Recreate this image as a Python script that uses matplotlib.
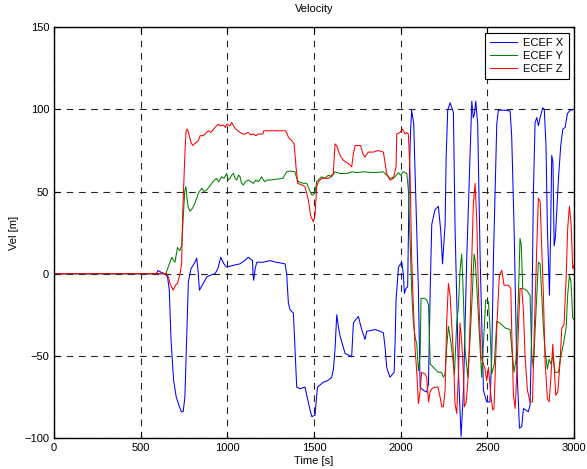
import matplotlib
matplotlib.use("Agg")
import matplotlib.pyplot as plt

# ECEF X velocity (time [s], value)
x_t = [0, 590, 600, 615, 640, 655, 665, 675, 690, 705, 720, 735, 745, 755, 765, 775, 790, 813, 823, 830,
       839, 860, 881, 900, 929, 945, 962, 980, 996, 1030, 1073, 1100, 1121, 1145, 1148, 1152, 1160, 1170,
       1208, 1246, 1280, 1304, 1333, 1342, 1352, 1362, 1381, 1390, 1400, 1419, 1448, 1460, 1475, 1487,
       1506, 1512, 1520, 1554, 1580, 1602, 1612, 1621, 1631, 1640, 1650, 1679, 1717, 1722, 1727, 1740,
       1756, 1765, 1775, 1794, 1804, 1852, 1880, 1900, 1910, 1919, 1938, 1962, 1968, 1973, 1987, 2006,
       2015, 2021, 2030, 2040, 2048, 2056, 2063, 2075, 2087, 2102, 2112, 2131, 2150, 2160, 2165, 2170,
       2179, 2198, 2217, 2231, 2241, 2256, 2262, 2271, 2285, 2304, 2313, 2333, 2348, 2362, 2381, 2400,
       2410, 2418, 2425, 2433, 2444, 2458, 2477, 2496, 2515, 2525, 2535, 2554, 2563, 2600, 2631, 2640,
       2654, 2669, 2685, 2698, 2708, 2736, 2746, 2756, 2765, 2775, 2785, 2794, 2804, 2819, 2828, 2838,
       2846, 2858, 2865, 2871, 2878, 2885, 2892, 2900, 2910, 2923, 2935, 2948, 2962, 2977, 3000]
x_v = [0, 0, 2, 1, 0, -2, -10, -40, -65, -75, -80, -84, -84, -75, -40, -5, 3, 7, 9.5, 3,
       -10, -6, -2, -1, 0, 3, 10, 6, 4, 5, 6, 8, 10, 8, 0, -4, 3, 7,
       7, 8, 7, 6.6, 6, 0, -18, -22, -24, -45, -69, -70, -69, -75, -82, -87,
       -86, -78, -69, -66, -65, -63, -58, -46, -25, -32, -38, -48.5, -50.5, -40, -30, -28,
       -26, -30, -34, -40, -35, -34, -35, -36, -45, -57, -63, -60, -40, -16, 4, 7,
       0, -12, -9, -8, 51, 85, 99.5, 91, 47, -10, -69, -71, -72, -67, -40, -10,
       30, 39, 41, 26, 6, 30, 71, 99.5, 104, 98, 30, -60, -99, -71, 10, 71,
       105, 95, 97, 105, 91, 10, -71, -78, -78, -50, 10, 91, 99.5, 99.5, 99, 84,
       27.5, -54, -94, -93, -82, -84, -80, -33, 48, 92, 95, 90, 95, 101, 100, 78,
       27.5, -13, 27.5, 72, 68, 17, 22, 38, 58, 78, 88, 89, 97.5, 99.5, 100]

# ECEF Y velocity
y_t = [0, 645, 655, 665, 679, 690, 698, 712, 725, 736, 746, 754, 761, 768, 775, 785, 800, 813, 833, 852,
       865, 881, 910, 925, 938, 950, 967, 980, 996, 1005, 1015, 1025, 1035, 1045, 1054, 1065, 1073, 1082,
       1092, 1105, 1121, 1135, 1150, 1165, 1179, 1198, 1208, 1217, 1230, 1246, 1285, 1320, 1342, 1360,
       1390, 1400, 1410, 1438, 1458, 1477, 1487, 1496, 1506, 1515, 1544, 1563, 1583, 1602, 1621, 1650,
       1689, 1720, 1750, 1785, 1850, 1900, 1919, 1938, 1967, 1987, 2000, 2015, 2035, 2044, 2054, 2063,
       2073, 2085, 2092, 2102, 2112, 2117, 2135, 2150, 2160, 2170, 2189, 2217, 2235, 2246, 2256, 2265,
       2275, 2290, 2310, 2323, 2333, 2342, 2352, 2360, 2371, 2387, 2400, 2414, 2423, 2430, 2444, 2458,
       2467, 2483, 2490, 2506, 2515, 2525, 2540, 2554, 2573, 2602, 2631, 2640, 2654, 2665, 2679, 2688,
       2695, 2704, 2725, 2746, 2756, 2765, 2785, 2794, 2804, 2813, 2823, 2833, 2846, 2856, 2867, 2877,
       2890, 2910, 2920, 2938, 2954, 2963, 2973, 2982, 2992, 3000]
y_v = [0, 0, 3, 6, 10, 8, 7, 16, 14, 17, 35, 50, 53, 45, 40, 38, 40, 43, 49, 52,
       50, 51, 55, 57, 58, 56, 59, 58, 61, 57, 58, 60, 61, 58, 57, 60, 59, 55,
       54, 56, 57, 56, 55, 57, 56, 59, 57, 56, 57, 57, 57.5, 58, 62, 62.5,
       62, 58, 56, 55, 55, 50, 48, 48, 50, 56, 59, 58, 60, 59, 62, 61,
       61, 62, 61.5, 62, 61.5, 62, 60, 58, 59, 61.5, 60, 62, 61, 51, 20, -10,
       -30, -40, -42, -59, -50, -15, -15, -16, -19, -55, -57, -60, -60, -63, -61, -45,
       -32, -42, -61, -30, -20, 2, 12, -10, -46, -63, -40, -10, 12, 8, -18, -46,
       -63, -30, -16, -17, -33, -61, -55, -29, -30, -33, -34, -45, -60, -52, -13, 21.5,
       18, -9, -10, -13, -50, -57, -13, 7, 6, -13, -33, -47.5, -58, -52, -55, -50,
       -60, -60, -52, -43, -33, -13, -1, -5, -27, -28]

# ECEF Z velocity
z_t = [0, 650, 660, 669, 688, 700, 712, 727, 736, 742, 750, 756, 762, 769, 778, 790, 800, 810, 833, 843,
       860, 871, 890, 905, 929, 948, 960, 977, 990, 996, 1015, 1025, 1044, 1060, 1073, 1090, 1102, 1120,
       1135, 1150, 1165, 1179, 1205, 1210, 1265, 1333, 1342, 1352, 1371, 1385, 1396, 1406, 1429, 1448,
       1460, 1467, 1481, 1496, 1506, 1515, 1525, 1544, 1583, 1611, 1621, 1630, 1650, 1669, 1698, 1717,
       1727, 1737, 1756, 1769, 1781, 1794, 1813, 1842, 1871, 1900, 1919, 1938, 1958, 1973, 1977, 1996,
       2010, 2025, 2035, 2044, 2054, 2063, 2073, 2083, 2092, 2102, 2112, 2121, 2140, 2150, 2160, 2169,
       2179, 2198, 2215, 2227, 2237, 2246, 2256, 2265, 2275, 2285, 2294, 2304, 2313, 2323, 2333, 2342,
       2352, 2362, 2367, 2378, 2390, 2400, 2410, 2419, 2429, 2439, 2448, 2463, 2477, 2486, 2496, 2506,
       2521, 2531, 2538, 2554, 2569, 2583, 2596, 2621, 2635, 2640, 2650, 2660, 2669, 2679, 2688, 2698,
       2708, 2717, 2731, 2746, 2760, 2771, 2785, 2794, 2804, 2813, 2823, 2833, 2846, 2856, 2867, 2877,
       2885, 2894, 2906, 2919, 2929, 2942, 2954, 2963, 2973, 2983, 2992, 3000]
z_v = [0, 0, -2, -6, -10, -7, -6, 0, 6, 35, 59, 75, 87, 88, 85, 80, 78, 79, 81, 84,
       84, 85, 87, 86, 89, 91, 90, 90.5, 89, 91, 90, 92, 88.5, 87, 86, 85, 85, 86,
       84.5, 85, 84, 85, 85, 87, 87, 87, 86, 83, 81, 79, 65, 55, 54, 53,
       48, 45, 35, 31.5, 36, 53, 56, 58, 58, 61, 79, 78, 72, 69, 67, 65,
       73, 78, 78, 78, 73, 71, 74, 74, 75, 74, 61, 57, 58, 65, 85, 86,
       88, 85, 86, 85, 61, 10, -20, -46, -59, -79, -71, -60, -61, -63, -78, -72,
       -70, -69, -69, -75, -81, -81, -71, -30, -6, -13, -30, -50, -79, -85, -61, -30,
       -42, -61, -81, -78, -61, -30, 10, 43, 55, 31, -10, -50, -55, -58, -65, -57,
       -75, -83, -82, -33, -1, 2, -7, -7, -9, -33, -74, -82, -62, -33, -9, -9,
       -23, -50, -71, -78, -78, -33, 17, 46, 44, 17, -13, -54, -76, -78, -62, -43,
       -56, -74, -72, -54, -33, -31, -3, 27.5, 41, 30, 3, 5]

plt.rcParams['font.family'] = ['Liberation Sans', 'DejaVu Sans']
plt.rcParams['font.size'] = 8

fig = plt.figure(figsize=(5.87, 4.69), dpi=100)
ax = fig.add_axes([0.092, 0.066, 0.886, 0.876])

ax.plot(x_t, x_v, color='#0000ff', lw=0.75, label='ECEF X')
ax.plot(y_t, y_v, color='#008000', lw=0.75, label='ECEF Y')
ax.plot(z_t, z_v, color='#ff0000', lw=0.75, label='ECEF Z')

ax.set_xlim(0, 3000)
ax.set_ylim(-100, 150)
ax.set_xticks(range(0, 3001, 500))
ax.set_yticks(range(-100, 151, 50))
ax.grid(True, color='0.15', linestyle=(0, (6, 5)), linewidth=0.8)
ax.tick_params(direction='in', length=4, top=True, right=True, labelsize=8)
for s in ax.spines.values():
    s.set_linewidth(1.0)

ax.set_title('Velocity', fontsize=8, pad=11)
ax.set_xlabel('Time [s]', fontsize=8, labelpad=2)
ax.set_ylabel('Vel [m]', fontsize=8, labelpad=4)

leg = ax.legend(loc='upper right', fancybox=False, edgecolor='black', framealpha=1,
                borderaxespad=0.5, handlelength=2.4, handletextpad=0.6,
                borderpad=0.45, labelspacing=0.28)
leg.get_frame().set_linewidth(0.8)

fig.savefig('out.png', dpi=100)
